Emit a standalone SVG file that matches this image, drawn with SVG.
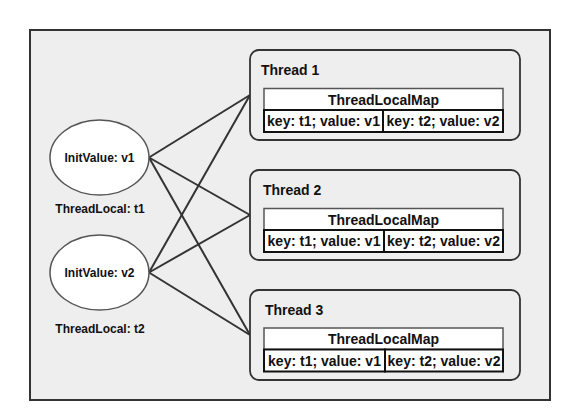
<svg xmlns="http://www.w3.org/2000/svg" width="570" height="420" viewBox="0 0 570 420">
<style>
.bg{fill:#eeeeee;stroke:#333333;stroke-width:2}
.thread{fill:#eeeeee;stroke:#333333;stroke-width:1.8}
.hdr{fill:#ffffff;stroke:#555555;stroke-width:1.5}
.cell{fill:#ffffff;stroke:#111111;stroke-width:2}
.ell{fill:#ffffff;stroke:#555555;stroke-width:1.5}
.conn line{stroke:#333333;stroke-width:2}
text{font-family:"Liberation Sans",Arial,sans-serif;font-weight:bold;fill:#111111}
.t14{font-size:14px}
.t12{font-size:12px}
.mid{text-anchor:middle}
</style>
<rect class="bg" x="30" y="30" width="520" height="370"/>
<g id="connectors" class="conn">
<line x1="149" y1="157.5" x2="250" y2="95"/>
<line x1="149" y1="157.5" x2="250" y2="215"/>
<line x1="149" y1="157.5" x2="250" y2="335"/>
<line x1="149" y1="272.5" x2="250" y2="95"/>
<line x1="149" y1="272.5" x2="250" y2="215"/>
<line x1="149" y1="272.5" x2="250" y2="335"/>
</g>
<g id="threadlocal1">
<ellipse class="ell" cx="99.5" cy="157.5" rx="49.5" ry="37.5"/>
<text class="t12 mid" x="99.5" y="162">InitValue: v1</text>
<text class="t12 mid" x="100" y="213">ThreadLocal: t1</text>
</g>
<g id="threadlocal2">
<ellipse class="ell" cx="99.5" cy="272.5" rx="49.5" ry="37.5"/>
<text class="t12 mid" x="99.5" y="277">InitValue: v2</text>
<text class="t12 mid" x="100" y="333">ThreadLocal: t2</text>
</g>
<g id="thread1">
<rect class="thread" x="250" y="50" width="270" height="90" rx="9"/>
<text class="t14" x="261" y="75">Thread 1</text>
<rect class="hdr" x="264" y="88.5" width="239" height="21.5"/>
<text class="t14 mid" x="383.5" y="104.5">ThreadLocalMap</text>
<rect class="cell" x="264" y="110" width="119" height="22"/>
<rect class="cell" x="383" y="110" width="120" height="22"/>
<text class="t14 mid" x="323.5" y="126">key: t1; value: v1</text>
<text class="t14 mid" x="443" y="126">key: t2; value: v2</text>
</g>
<g id="thread2">
<rect class="thread" x="250" y="170" width="270" height="90" rx="9"/>
<text class="t14" x="263" y="195">Thread 2</text>
<rect class="hdr" x="264" y="208.5" width="239" height="21.5"/>
<text class="t14 mid" x="383.5" y="224.5">ThreadLocalMap</text>
<rect class="cell" x="264" y="230" width="120" height="22"/>
<rect class="cell" x="384" y="230" width="119" height="22"/>
<text class="t14 mid" x="324" y="246">key: t1; value: v1</text>
<text class="t14 mid" x="443.5" y="246">key: t2; value: v2</text>
</g>
<g id="thread3">
<rect class="thread" x="250" y="290" width="270" height="90" rx="9"/>
<text class="t14" x="265" y="315">Thread 3</text>
<rect class="hdr" x="264" y="328" width="239" height="21.5"/>
<text class="t14 mid" x="383.5" y="344">ThreadLocalMap</text>
<rect class="cell" x="264" y="349.5" width="121" height="22"/>
<rect class="cell" x="385" y="349.5" width="118" height="22"/>
<text class="t14 mid" x="324.5" y="365.5">key: t1; value: v1</text>
<text class="t14 mid" x="444" y="365.5">key: t2; value: v2</text>
</g>
</svg>
